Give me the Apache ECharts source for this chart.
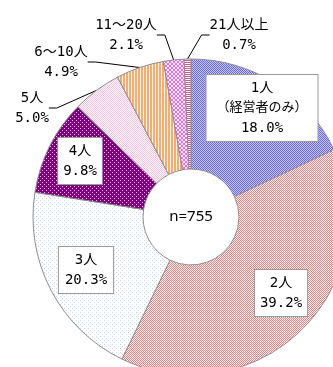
<!DOCTYPE html>
<html>
<head>
<meta charset="utf-8">
<script src="https://cdn.jsdelivr.net/npm/echarts@6/dist/echarts.min.js"></script>
<style>
html, body { margin: 0; padding: 0; background: #fff; }
#main { width: 333px; height: 367px; }
</style>
</head>
<body>
<div id="main"></div>
<script>
// データ
var categories = ['1人', '2人', '3人', '4人', '5人', '6～10人', '11～20人', '21人以上'];
var subNotes = ['（経営者のみ）', '', '', '', '', '', '', ''];
var percents = [18.0, 39.2, 20.3, 9.8, 5.0, 4.9, 2.1, 0.7];
var sampleN = 755;

// 配置
var pieCenter = [191, 217];
var boxed = [true, true, true, true, false, false, false, false];
var labelPos = [[262, 108], [281, 293], [86, 270], [80, 161], [32, 108], [61, 62], [126, 35], [239, 35]];
var boxPad = [[3, 10], [3, 5], [3, 6], [3, 5]];

// 塗りパターン
function pattern(rows, pal) {
  var c = document.createElement('canvas');
  c.width = rows[0].length;
  c.height = rows.length;
  var ctx = c.getContext('2d');
  rows.forEach(function (r, y) {
    for (var x = 0; x < r.length; x++) {
      ctx.fillStyle = pal[r[x]];
      ctx.fillRect(x, y, 1, 1);
    }
  });
  return { image: c, repeat: 'repeat' };
}

var fills = [
  pattern(['ab', 'ba'], { a: '#6868f8', b: '#c8c8ff' }),
  pattern(['ab', 'ba'], { a: '#ff7878', b: '#ffffff' }),
  pattern(['awww', 'wwww', 'wwaw', 'wwww'], { a: '#c4d8f2', w: '#ffffff' }),
  pattern(['wppp', 'pppp', 'ppwp', 'pppp'], { w: '#e8c8e8', p: '#800080' }),
  pattern(['ab', 'ba'], { a: '#ffbcdc', b: '#ffffff' }),
  pattern(['oow'], { o: '#ffa868', w: '#ffffff' }),
  pattern(['mwwm', 'wmmw', 'wmmw', 'mwwm'], { m: '#ff5cff', w: '#ffffff' }),
  pattern(['r', 'w'], { r: '#c85a82', w: '#ffffff' })
];

var font = "'DejaVu Sans Mono', 'Noto Sans CJK JP'";

var pieData = categories.map(function (name, i) {
  var item = {
    name: name,
    value: percents[i],
    itemStyle: { color: fills[i] }
  };
  if (boxed[i]) {
    item.label = {
      position: 'inside',
      backgroundColor: '#fff',
      borderColor: '#999',
      borderWidth: 1,
      padding: boxPad[i]
    };
    item.labelLine = { show: false };
  } else {
    item.label = { position: 'outside' };
    item.labelLine = {
      show: true,
      length: 10,
      length2: 8,
      lineStyle: { color: '#000', width: 1 }
    };
  }
  return item;
});

var myChart = echarts.init(document.getElementById('main'));
var option = {
  animation: false,
  graphic: [{
    type: 'text',
    x: pieCenter[0],
    y: pieCenter[1],
    z: 100,
    style: {
      text: 'n=' + sampleN,
      align: 'center',
      verticalAlign: 'middle',
      font: "15px 'Noto Sans'",
      fill: '#000'
    }
  }],
  series: [{
    type: 'pie',
    center: pieCenter,
    radius: [48, 158],
    startAngle: 90,
    clockwise: true,
    silent: true,
    avoidLabelOverlap: false,
    itemStyle: { borderColor: '#8c8c8c', borderWidth: 1 },
    label: {
      color: '#000',
      fontSize: 14,
      fontFamily: font,
      lineHeight: 20,
      overflow: 'none',
      formatter: function (p) {
        var i = p.dataIndex;
        var s = categories[i];
        if (subNotes[i]) s += '\n{s|' + subNotes[i] + '}';
        return s + '\n' + percents[i].toFixed(1) + '%';
      },
      rich: {
        s: { fontSize: 13, fontFamily: font, color: '#000', lineHeight: 20 }
      }
    },
    labelLayout: function (p) {
      var pos = labelPos[p.dataIndex];
      return { x: pos[0], y: pos[1], align: 'center', verticalAlign: 'middle' };
    },
    data: pieData
  }]
};
myChart.setOption(option);
</script>
</body>
</html>
